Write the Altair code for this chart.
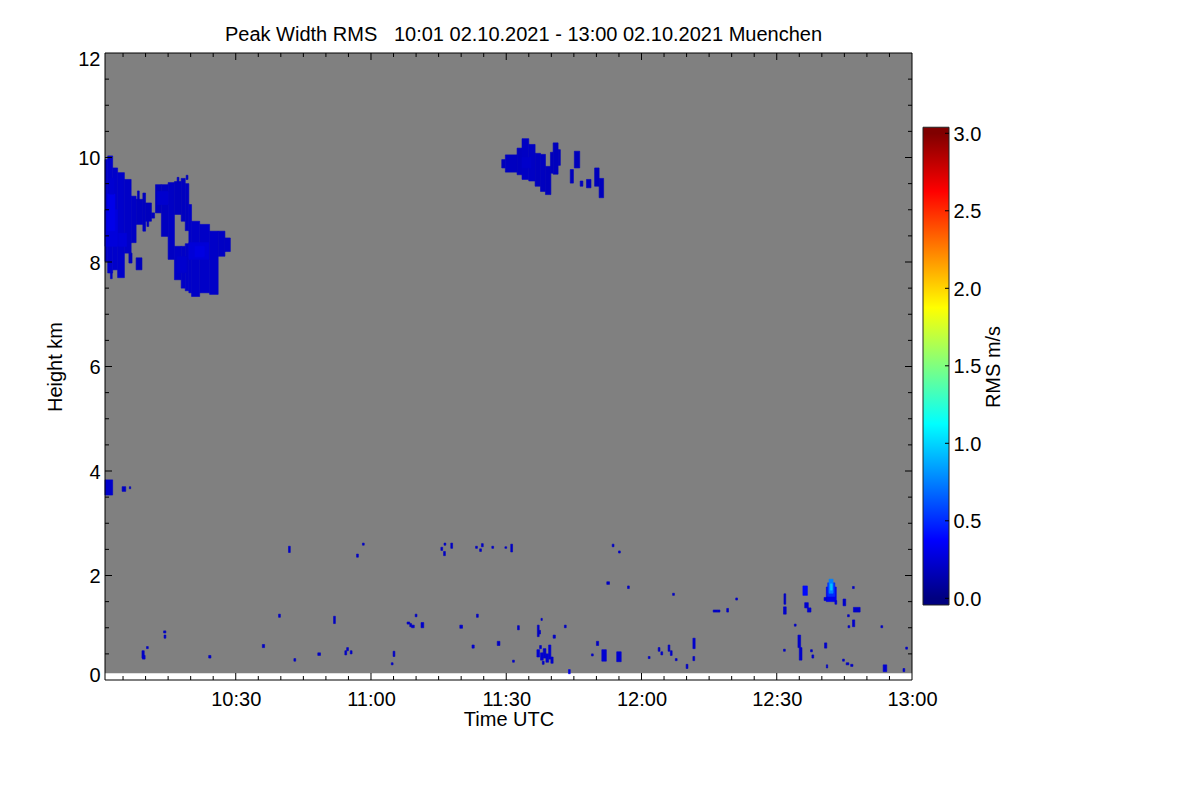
import altair as alt
import pandas as pd
import numpy as np

# ---------------- data (time: minutes after 10:00 UTC, height: km, value: RMS m/s)
title_text = "Peak Width RMS\u00a0\u00a0 10:01 02.10.2021 - 13:00 02.10.2021 Muenchen"

# measured range (grey = no signal)
range_t = [1.0, 180.0]
range_h = [0.13, 12.0]

# large cloud segments: columns of the two cirrus fields near 10:00-10:30 and 11:30
cloud_t0 = [1.0, 1.6, 2.7, 3.8, 5.3, 6.8, 7.9, 9.4, 10.0, 11.3, 6.3, 7.9,
            12.2, 13.5, 15.0, 16.4, 16.4, 17.9, 17.9, 18.8, 18.8, 19.6, 20.2, 22.0, 24.2, 26.1, 27.6,
            89.0, 89.8, 92.4, 93.5, 95.0, 96.4, 97.6, 98.7, 99.8, 100.4, 101.5,
            104.2, 105.1, 106.4, 107.8, 109.6, 110.6,
            1.0, 4.8, 6.4,
            8.2, 10.3, 17.0, 19.0, 2.2]
cloud_t1 = [1.6, 2.7, 3.8, 5.3, 6.8, 7.9, 9.4, 10.0, 11.3, 12.0, 7.0, 9.2,
            13.5, 15.0, 16.4, 17.9, 17.9, 18.8, 18.8, 19.6, 19.6, 20.2, 22.0, 24.2, 26.1, 27.6, 28.8,
            89.8, 92.4, 93.5, 95.0, 96.4, 97.6, 98.7, 99.9, 100.4, 101.5, 102.0,
            104.9, 106.3, 107.0, 108.8, 110.6, 111.6,
            2.7, 5.6, 6.7,
            8.6, 10.7, 17.4, 19.4, 2.6]
cloud_h0 = [8.01, 7.79, 7.85, 7.70, 8.17, 8.37, 8.72, 8.59, 8.78, 8.84, 7.98, 7.85,
            8.94, 8.49, 8.05, 7.66, 8.91, 7.50, 8.78, 7.45, 8.60, 7.41, 7.34, 7.41, 7.38, 8.11, 8.20,
            9.80, 9.72, 9.67, 9.58, 9.55, 9.45, 9.35, 9.29, 9.70, 9.68, 9.85,
            9.51, 9.80, 9.45, 9.42, 9.45, 9.23,
            3.54, 3.61, 3.66,
            9.18, 8.68, 9.52, 9.58, 7.68]
cloud_h1 = [9.96, 10.03, 9.80, 9.71, 9.58, 9.26, 9.20, 9.32, 9.13, 8.94, 8.17, 8.08,
            9.48, 9.48, 9.52, 8.30, 9.54, 8.30, 9.60, 8.35, 9.50, 9.10, 8.78, 8.72, 8.59, 8.59, 8.46,
            9.96, 10.05, 10.18, 10.36, 10.25, 10.08, 10.06, 9.83, 10.10, 10.28, 10.15,
            9.77, 10.12, 9.55, 9.58, 9.80, 9.60,
            3.83, 3.70, 3.70,
            9.36, 8.80, 9.62, 9.66, 7.80]
cloud_v = [0.20, 0.22, 0.22, 0.22, 0.21, 0.20, 0.19, 0.19, 0.18, 0.18, 0.18, 0.18,
           0.18, 0.19, 0.20, 0.21, 0.19, 0.21, 0.19, 0.21, 0.19, 0.21, 0.21, 0.21, 0.21, 0.20, 0.20,
           0.18, 0.19, 0.19, 0.20, 0.20, 0.19, 0.19, 0.18, 0.18, 0.18, 0.18,
           0.18, 0.18, 0.18, 0.18, 0.18, 0.18,
           0.22, 0.20, 0.18,
           0.18, 0.18, 0.18, 0.18, 0.20]

# brighter cores inside the clouds
core_t0 = [1.0, 1.5, 4.0, 19.6, 21.0, 12.6, 2.0, 93.5, 17.0]
core_t1 = [3.8, 3.2, 5.8, 24.0, 23.0, 15.0, 3.0, 95.5, 19.0]
core_h0 = [8.30, 8.60, 8.30, 8.05, 8.10, 9.10, 9.30, 9.80, 7.80]
core_h1 = [9.00, 9.30, 8.55, 8.37, 8.30, 9.35, 9.60, 10.00, 8.10]
core_v = [0.27, 0.31, 0.26, 0.26, 0.29, 0.23, 0.24, 0.22, 0.23]

# scattered low-level echoes
speck_t0 = [9.2, 9.3, 10.2, 14.0, 14.1, 24.0, 35.9, 39.5, 41.7, 42.9, 48.2, 51.7, 54.2, 54.6, 55.4,
            56.8, 58.1, 64.5, 64.9, 68.0, 68.6, 69.0, 69.8, 71.1, 75.5, 76.2, 76.1, 77.7, 79.7, 82.4,
            83.4, 83.2, 84.1, 84.5, 86.8, 88.0, 89.7, 91.0, 92.5, 91.4, 96.9, 97.2, 97.7,
            96.8, 97.6, 98.2, 98.8, 99.4, 99.9, 97.4, 98.0, 100.4, 102.9, 103.8, 110.0, 108.9,
            111.2, 114.5, 112.3, 113.5, 114.9, 116.9, 121.5, 123.7, 124.3, 125.9, 126.4, 127.5,
            126.9, 129.9, 131.4, 131.4, 135.9, 136.9, 138.9, 140.9, 151.5, 151.6, 151.5, 153.9,
            154.7, 155.0, 155.8, 156.2, 156.8, 157.8, 157.5,
            161.0, 161.3, 161.6, 161.9, 160.5, 162.9, 160.6, 161.0, 164.7, 166.8, 167.0, 165.7,
            166.8, 165.8, 173.1, 164.6, 165.4, 166.4, 173.6, 178.0, 178.6]
speck_t1 = [9.7, 9.9, 10.6, 14.5, 14.5, 24.5, 36.4, 39.9, 42.1, 43.3, 48.8, 52.1, 54.6, 55.0, 55.8,
            57.2, 58.5, 64.9, 65.3, 68.6, 69.0, 69.6, 70.2, 71.7, 75.9, 76.6, 76.5, 78.1, 80.3, 82.9,
            83.8, 83.6, 84.5, 84.9, 87.2, 88.6, 90.1, 91.4, 92.9, 91.8, 97.3, 97.6, 98.0,
            97.4, 98.2, 98.8, 99.4, 99.9, 100.4, 97.8, 98.4, 100.9, 103.3, 104.2, 110.5, 109.3,
            112.2, 115.5, 112.9, 113.9, 115.3, 117.3, 121.9, 124.1, 124.7, 126.3, 126.8, 127.9,
            127.3, 130.3, 131.9, 131.8, 136.9, 137.4, 139.3, 141.3, 152.1, 152.0, 151.9, 154.3,
            155.3, 155.6, 156.8, 157.0, 157.6, 158.2, 157.9,
            163.2, 162.9, 162.5, 162.3, 161.1, 163.3, 161.1, 161.3, 165.3, 167.2, 168.5, 166.1,
            167.3, 166.2, 173.5, 165.0, 166.0, 166.9, 174.4, 178.4, 179.0]
speck_h0 = [0.42, 0.40, 0.60, 0.90, 0.80, 0.42, 0.62, 1.20, 2.44, 0.36, 0.47, 1.08, 0.48, 0.56, 0.50,
            2.35, 2.58, 0.29, 0.45, 1.07, 1.02, 1.00, 1.21, 1.00, 2.48, 2.58, 2.38, 2.52, 0.99, 0.61,
            1.20, 2.52, 2.46, 2.55, 2.52, 0.66, 2.52, 2.45, 0.96, 0.34, 0.83, 0.88, 1.14,
            0.44, 0.38, 0.42, 0.34, 0.40, 0.32, 0.60, 0.30, 0.80, 1.00, 0.12, 0.66, 0.46,
            0.36, 0.35, 1.83, 2.55, 2.43, 1.75, 0.41, 0.55, 0.48, 0.55, 0.47, 0.37,
            1.62, 0.22, 0.60, 0.37, 1.30, 1.30, 1.30, 1.53, 1.26, 1.45, 0.55, 1.03,
            0.62, 0.38, 1.62, 1.38, 1.30, 0.42, 0.54,
            1.50, 1.60, 1.66, 1.72, 1.52, 1.45, 0.61, 0.23, 1.42, 1.75, 1.30, 1.21,
            1.02, 1.00, 1.00, 0.36, 0.29, 0.26, 0.16, 0.16, 0.59]
speck_h1 = [0.56, 0.47, 0.64, 0.94, 0.86, 0.47, 0.68, 1.26, 2.56, 0.41, 0.52, 1.22, 0.56, 0.62, 0.56,
            2.41, 2.62, 0.33, 0.55, 1.11, 1.08, 1.05, 1.26, 1.10, 2.54, 2.62, 2.46, 2.62, 1.05, 0.67,
            1.26, 2.56, 2.51, 2.61, 2.56, 0.74, 2.55, 2.60, 1.04, 0.38, 1.05, 0.95, 1.18,
            0.58, 0.52, 0.60, 0.50, 0.67, 0.44, 0.66, 0.36, 0.86, 1.05, 0.20, 0.74, 0.50,
            0.58, 0.54, 1.88, 2.60, 2.47, 1.80, 0.45, 0.62, 0.54, 0.67, 0.56, 0.41,
            1.66, 0.30, 0.80, 0.45, 1.34, 1.34, 1.37, 1.57, 1.40, 1.65, 0.59, 1.07,
            0.86, 0.62, 1.80, 1.48, 1.38, 0.48, 0.58,
            1.78, 1.86, 1.93, 1.84, 1.58, 1.52, 0.71, 0.29, 1.55, 1.79, 1.39, 1.25,
            1.15, 1.04, 1.04, 0.40, 0.33, 0.30, 0.29, 0.22, 0.63]
speck_v = [0.20, 0.22, 0.20, 0.20, 0.20, 0.20, 0.20, 0.20, 0.20, 0.20, 0.20, 0.20, 0.20, 0.20, 0.20,
           0.20, 0.20, 0.20, 0.20, 0.20, 0.20, 0.22, 0.20, 0.22, 0.20, 0.20, 0.20, 0.20, 0.22, 0.22,
           0.20, 0.20, 0.20, 0.20, 0.20, 0.20, 0.20, 0.20, 0.20, 0.20, 0.20, 0.20, 0.20,
           0.24, 0.24, 0.22, 0.24, 0.24, 0.22, 0.20, 0.20, 0.20, 0.20, 0.30, 0.20, 0.20,
           0.24, 0.24, 0.20, 0.20, 0.20, 0.20, 0.20, 0.20, 0.20, 0.20, 0.20, 0.20,
           0.20, 0.20, 0.22, 0.20, 0.20, 0.20, 0.20, 0.20, 0.22, 0.20, 0.20, 0.20,
           0.22, 0.22, 0.40, 0.24, 0.24, 0.20, 0.20,
           0.32, 0.50, 0.75, 0.95, 0.24, 0.24, 0.22, 0.20, 0.22, 0.20, 0.22, 0.20,
           0.22, 0.20, 0.20, 0.20, 0.20, 0.20, 0.24, 0.20, 0.20]

# axis ticks / labels
x_label_values = [30, 60, 90, 120, 150, 180]
x_label_text = ["10:30", "11:00", "11:30", "12:00", "12:30", "13:00"]
x_minor_ticks = [t for t in range(5, 180, 5) if t % 30 != 0]
x_major_ticks = [30, 60, 90, 120, 150]
y_label_values = [0, 2, 4, 6, 8, 10, 12]
y_minor_ticks = [h / 2 for h in range(1, 24) if h % 4 != 0]
y_major_ticks = [2, 4, 6, 8, 10]
cbar_values = [0.0, 0.5, 1.0, 1.5, 2.0, 2.5, 3.0]
cbar_lo, cbar_hi = -0.043, 3.039

# jet-like colour table
jet_domain = [0.0, 0.375, 1.125, 1.875, 2.625, 3.0]
jet_range = ["#000080", "#0000ff", "#00ffff", "#ffff00", "#ff0000", "#800000"]

# ---------------- build tables
W, H = 807, 627
cells = pd.concat([
    pd.DataFrame({"t0": cloud_t0, "t1": cloud_t1, "h0": cloud_h0, "h1": cloud_h1, "v": cloud_v}),
    pd.DataFrame({"t0": core_t0, "t1": core_t1, "h0": core_h0, "h1": core_h1, "v": core_v}),
    pd.DataFrame({"t0": speck_t0, "t1": speck_t1, "h0": speck_h0, "h1": speck_h1, "v": speck_v}),
], ignore_index=True)
cells["order"] = range(len(cells))

bg = pd.DataFrame({"t0": [range_t[0]], "t1": [range_t[1]], "h0": [range_h[0]], "h1": [range_h[1]]})
frame = pd.DataFrame({"t0": [range_t[0]], "t1": [range_t[1]], "h0": [0.0], "h1": [12.0]})

label_expr = " : ".join(f"datum.value == {v} ? '{s}'" for v, s in zip(x_label_values, x_label_text)) + " : ''"

xscale = alt.Scale(domain=[1, 180], nice=False, zero=False)
yscale = alt.Scale(domain=[0, 12], nice=False, zero=False)
xaxis = alt.Axis(values=x_label_values, labelExpr=label_expr, labelFlush=False, labelPadding=9,
                 titlePadding=0, tickSize=0, ticks=False, domain=False, grid=False)
yaxis = alt.Axis(values=y_label_values, format="d", labelPadding=5, titlePadding=12,
                 tickSize=0, ticks=False, domain=False, grid=False,
                 labelOffset={"condition": [{"test": "datum.value == 12", "value": 6.5},
                                            {"test": "datum.value == 0", "value": -5}],
                              "value": 1})


def X(f):
    return alt.X(f, type="quantitative", scale=xscale, axis=xaxis, title="Time UTC")


def Y(f):
    return alt.Y(f, type="quantitative", scale=yscale, axis=yaxis, title="Height km")


jet = alt.Scale(domain=jet_domain, range=jet_range, interpolate="rgb", clamp=True)
color = alt.Color("v:Q", scale=jet, legend=None)
stroke = alt.Stroke("v:Q", scale=jet, legend=None)

bg_layer = alt.Chart(bg).mark_rect(color="#808080").encode(x=X("t0"), x2="t1", y=Y("h0"), y2="h1")
cell_layer = alt.Chart(cells).mark_rect(strokeWidth=0.6).encode(
    x=X("t0"), x2="t1", y=Y("h0"), y2="h1", color=color, stroke=stroke, order="order:Q")


def xticks(vals, length):
    d = pd.DataFrame({"t": vals})
    b = alt.Chart(d).mark_rule(color="black", strokeWidth=1).encode(
        x=X("t"), y=alt.value(H), y2=alt.value(H - length))
    t = alt.Chart(d).mark_rule(color="black", strokeWidth=1).encode(
        x=X("t"), y=alt.value(0), y2=alt.value(length))
    return [b, t]


def yticks(vals, length):
    d = pd.DataFrame({"h": vals})
    l = alt.Chart(d).mark_rule(color="black", strokeWidth=1).encode(
        y=Y("h"), x=alt.value(0), x2=alt.value(length))
    r = alt.Chart(d).mark_rule(color="black", strokeWidth=1).encode(
        y=Y("h"), x=alt.value(W), x2=alt.value(W - length))
    return [l, r]


frame_layer = alt.Chart(frame).mark_rect(fillOpacity=0, stroke="black", strokeWidth=1).encode(
    x=X("t0"), x2="t1", y=Y("h0"), y2="h1")

main = alt.layer(bg_layer, cell_layer,
                 *xticks(x_minor_ticks, 4), *xticks(x_major_ticks, 7),
                 *yticks(y_minor_ticks, 4), *yticks(y_major_ticks, 7),
                 frame_layer)

# ---------------- colour bar (gradient following the same colour table)
stops = [alt.GradientStop(offset=0.0, color=jet_range[0])]
for d, c in zip(jet_domain, jet_range):
    stops.append(alt.GradientStop(offset=(d - cbar_lo) / (cbar_hi - cbar_lo), color=c))
stops.append(alt.GradientStop(offset=1.0, color=jet_range[-1]))
grad = alt.LinearGradient(gradient="linear", stops=stops, x1=0, x2=0, y1=1, y2=0)

cscale = alt.Scale(domain=[-0.527, 3.518], nice=False, zero=False)
caxis = alt.Axis(orient="right", offset=37, values=cbar_values, format=".1f", labelPadding=4,
                 labelOffset=1, tickSize=0, ticks=False, domain=False, grid=False,
                 titleAngle=270, titleBaseline="top", titlePadding=3)
CX0, CX1 = W + 11, W + 37


def CY(f):
    return alt.Y(f, type="quantitative", scale=cscale, axis=caxis, title="RMS m/s")


cb_df = pd.DataFrame({"c0": [cbar_lo], "c1": [cbar_hi]})
cb_bar = alt.Chart(cb_df).mark_rect(fill=grad, stroke="#222222", strokeWidth=1).encode(
    y=CY("c0"), y2="c1", x=alt.value(CX0), x2=alt.value(CX1))
cb_ticks = alt.Chart(pd.DataFrame({"c": cbar_values})).mark_rule(color="black", strokeWidth=1).encode(
    y=CY("c"), x=alt.value(CX1 - 4), x2=alt.value(CX1))
cbar = alt.layer(cb_bar, cb_ticks)

chart = alt.layer(main, cbar).resolve_scale(y="independent").properties(
    width=W, height=H,
    autosize=alt.AutoSizeParams(type="none"),
    padding={"left": 97, "top": 45, "right": 280, "bottom": 112},
    title=alt.TitleParams(text=title_text, fontSize=20, font="Liberation Sans", fontWeight="normal",
                          color="black", anchor="middle", frame="group", dx=15, offset=-15,
                          baseline="bottom"),
).configure(font="Liberation Sans").configure_view(stroke="transparent").configure_axis(
    labelFont="Liberation Sans", titleFont="Liberation Sans", labelFontSize=20, titleFontSize=20,
    titleFontWeight="normal", labelColor="black", titleColor="black")

chart.save("out.html", embed_options={"renderer": "svg", "actions": False})
